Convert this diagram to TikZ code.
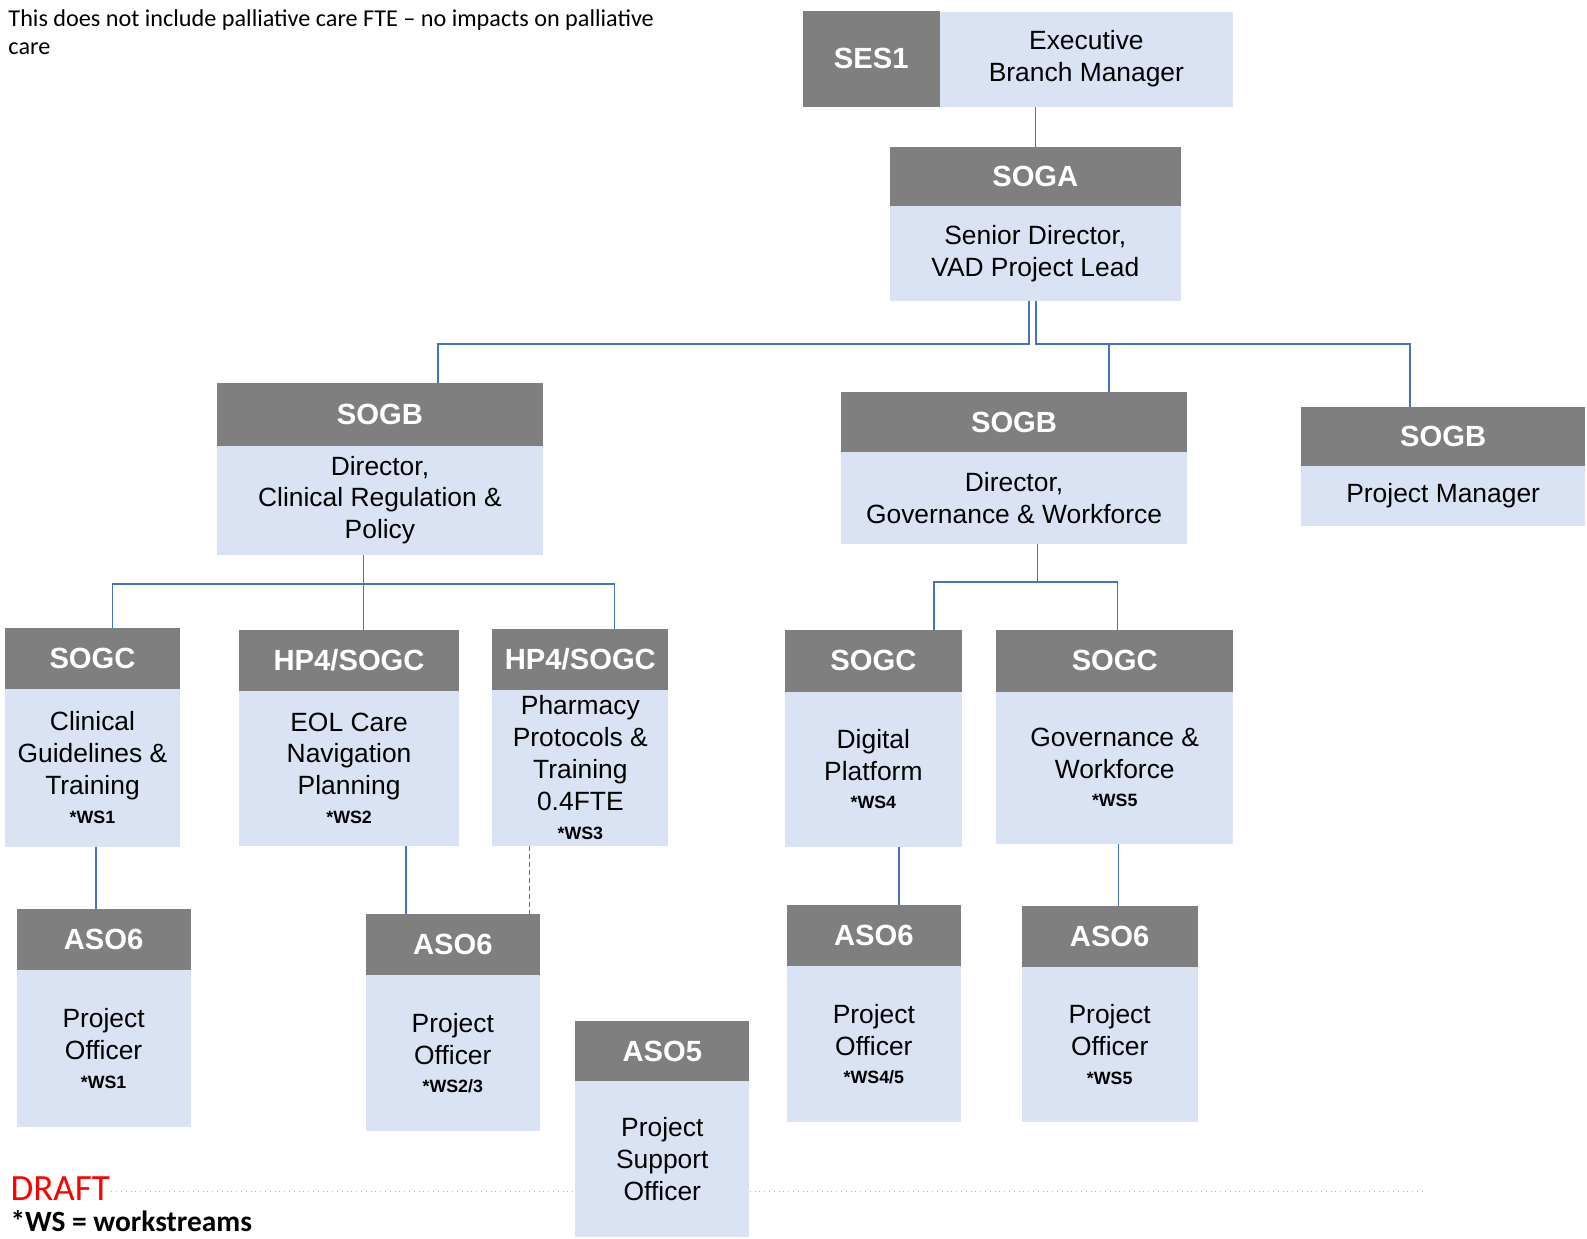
\documentclass[tikz,border=0pt]{standalone}
\usepackage{fontspec}
\setmainfont{Liberation Sans}
\newfontfamily\calibri{Carlito}
\usepackage{xcolor}
\definecolor{hdrgray}{RGB}{127,127,127}
\definecolor{bdyblue}{RGB}{218,227,243}
\definecolor{linkblue}{RGB}{68,114,196}
\definecolor{draftred}{RGB}{255,0,0}
\newcommand{\unitpx}{0.506pt}
\newcommand{\hdrfont}{\fontsize{14.6}{17}\selectfont\bfseries}
\newcommand{\bdyfont}{\fontsize{13.2}{15.95}\selectfont}
\newcommand{\wstag}[1]{{\fontsize{8.9}{10}\selectfont\bfseries *#1}}
% one position box: grey grade bar on top, blue role panel below
\newcommand{\orgunit}[8]{%
  \node[hdr, minimum width={(#5-#2)*\unitpx}, minimum height={(#4-#3)*\unitpx}] (#1-h) at (#2,#3) {#7};
  \node[bdy, minimum width={(#5-#2)*\unitpx}, minimum height={(#6-#4)*\unitpx}] (#1-b) at (#2,#4) {#8};
}

\begin{document}
\begin{tikzpicture}[x=0.506pt, y=-0.506pt,
  hdr/.style={fill=hdrgray, text=white, font=\hdrfont, inner sep=0pt, anchor=north west},
  bdy/.style={fill=bdyblue, font=\bdyfont, align=center, inner sep=0pt, anchor=north west},
  link/.style={draw=linkblue, line width=0.8pt}]
\useasboundingbox (0,0) rectangle (1568,1224);

% notes
\node[anchor=north west, inner sep=0pt, align=left, font=\calibri\fontsize{12.1}{14.2}\selectfont] (note) at (8,9)
  {This does not include palliative care FTE – no impacts on palliative\\care};
\draw[gray!60, dotted, line width=0.4pt] (110,1177) -- (1407,1177);
\node[anchor=base west, inner sep=0pt, text=draftred, font=\calibri\fontsize{18.5}{22}\selectfont] (draft) at (10,1186) {DRAFT};
\node[anchor=base west, inner sep=0pt, font=\calibri\bfseries\fontsize{14.7}{17}\selectfont] (wsnote) at (10,1217) {*WS = workstreams};

% executive
\node[hdr, minimum width={135*\unitpx}, minimum height={95*\unitpx}] (ses-h) at (793,10) {SES1};
\node[bdy, minimum width={290*\unitpx}, minimum height={94*\unitpx}] (ses-b) at (928,11) {Executive\\Branch Manager};
\orgunit{soga}{879}{145}{203}{1166}{297}{SOGA}{Senior Director,\\VAD Project Lead}

% directors
\orgunit{sogb-reg}{214}{378}{440}{536}{548}{SOGB}{Director,\\Clinical Regulation \&\\Policy\rule[-3pt]{0pt}{0pt}}
\orgunit{sogb-gov}{831}{387}{446}{1172}{537}{SOGB}{Director,\\Governance \& Workforce}
\orgunit{sogb-pm}{1285}{402}{460}{1566}{519}{SOGB}{Project Manager}

% workstream leads
\orgunit{sogc-clin}{5}{620}{680}{177}{836}{SOGC}{Clinical\\Guidelines \&\\Training\\[-1.7pt]\wstag{WS1}}
\orgunit{hp4-eol}{236}{622}{682}{453}{835}{HP4/SOGC}{EOL Care\\Navigation\\Planning\\[-1.7pt]\wstag{WS2}}
\orgunit{hp4-pharm}{486}{621}{681}{660}{835}{HP4/SOGC}{Pharmacy\\Protocols \&\\Training\\0.4FTE\\[-1.7pt]\wstag{WS3}}
\orgunit{sogc-dig}{775}{622}{683}{950}{836}{SOGC}{Digital\\Platform\\[-1.7pt]\wstag{WS4}}
\orgunit{sogc-gov}{984}{622}{683}{1218}{833}{SOGC}{Governance \&\\Workforce\\[-1.7pt]\wstag{WS5}}

% officers
\orgunit{aso6-clin}{16}{898}{958}{188}{1113}{ASO6}{Project\\Officer\\[-1.7pt]\wstag{WS1}}
\orgunit{aso6-eol}{361}{903}{963}{533}{1117}{ASO6}{Project\\Officer\\[-1.7pt]\wstag{WS2/3}}
\orgunit{aso5-sup}{568}{1008}{1068}{740}{1222}{ASO5}{Project\\Support\\Officer}
\orgunit{aso6-dig}{777}{894}{954}{949}{1108}{ASO6}{Project\\Officer\\[-1.7pt]\wstag{WS4/5}}
\orgunit{aso6-gov}{1009}{895}{955}{1183}{1108}{ASO6}{Project\\Officer\\[-1.7pt]\wstag{WS5}}

% reporting lines
\draw[link] (soga-h.north) -- (soga-h.north |- ses-b.south);
\coordinate (busa-reg) at (433,340);
\coordinate (busa-gov) at (1096,340);
\coordinate (busa-pm) at (1393,340);
\draw[link] ([xshift=-3.3pt]soga-b.south) |- (busa-reg) -- (busa-reg |- sogb-reg-h.north);
\draw[link] ([xshift=0.25pt]soga-b.south) |- (busa-pm) -- (busa-pm |- sogb-pm-h.north);
\draw[link] (busa-gov) -- (busa-gov |- sogb-gov-h.north);

\coordinate (busb-reg) at (359,577);
\coordinate (busb-clin) at (111,577);
\coordinate (busb-pharm) at (607,577);
\draw[link] (busb-reg |- sogb-reg-b.south) -- (busb-reg |- hp4-eol-h.north);
\draw[link] (busb-clin |- sogc-clin-h.north) |- (busb-pharm) -- (busb-pharm |- hp4-pharm-h.north);

\coordinate (busc-gov) at (1025,575);
\coordinate (busc-dig) at (923,575);
\coordinate (busc-wf) at (1104,575);
\draw[link] (busc-gov |- sogb-gov-b.south) -- (busc-gov);
\draw[link] (busc-dig |- sogc-dig-h.north) |- (busc-wf) -- (busc-wf |- sogc-gov-h.north);

\coordinate (drop-clin) at (95,0);
\coordinate (drop-eol) at (401,0);
\coordinate (drop-pharm) at (523,0);
\coordinate (drop-dig) at (888,0);
\coordinate (drop-gov) at (1105,0);
\draw[link] (drop-clin |- sogc-clin-b.south) -- (drop-clin |- aso6-clin-h.north);
\draw[link] (drop-eol |- hp4-eol-b.south) -- (drop-eol |- aso6-eol-h.north);
\draw[link, dash pattern=on 2.5pt off 1.5pt] (drop-pharm |- hp4-pharm-b.south) -- (drop-pharm |- aso6-eol-h.north);
\draw[link] (drop-dig |- sogc-dig-b.south) -- (drop-dig |- aso6-dig-h.north);
\draw[link] (drop-gov |- sogc-gov-b.south) -- (drop-gov |- aso6-gov-h.north);
\end{tikzpicture}
\end{document}
